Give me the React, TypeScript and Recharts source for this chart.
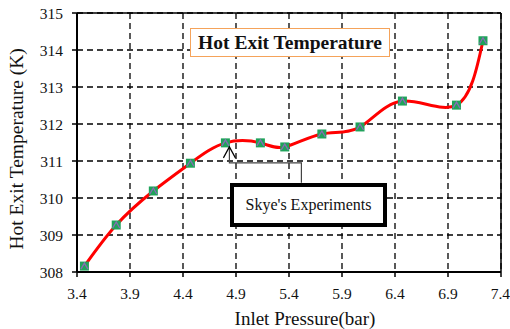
import * as React from "react";
import {
  CartesianGrid,
  Line,
  LineChart,
  ReferenceDot,
  ReferenceLine,
  XAxis,
  YAxis,
} from "recharts";

// inlet pressure (bar) and hot exit temperature (K)
const pressure = [3.47, 3.77, 4.12, 4.47, 4.8, 5.13, 5.36, 5.71, 6.07, 6.47, 6.98, 7.23];
const hotExit = [308.16, 309.27, 310.19, 310.94, 311.49, 311.49, 311.38, 311.73, 311.92, 312.62, 312.51, 314.25];

const xTicks = [3.4, 3.9, 4.4, 4.9, 5.4, 5.9, 6.4, 6.9, 7.4];
const yTicks = [308, 309, 310, 311, 312, 313, 314, 315];

const serif = "Liberation Serif, Times New Roman, serif";

const data = pressure.map((p, i) => ({ p, t: hotExit[i] }));

function Marker(props: any) {
  const { cx, cy } = props;
  if (cx == null || cy == null) return null;
  return (
    <g>
      <rect x={cx - 4.5} y={cy - 4.5} width={9} height={9} fill="#1fa35a" />
      <path
        d={`M${cx - 3.5},${cy + 3} L${cx},${cy - 3} L${cx + 3.5},${cy + 3}`}
        fill="none"
        stroke="#8a6bb5"
        strokeWidth={1.3}
      />
    </g>
  );
}

// elbow connector from the 4.8 bar point down to the callout box
function Connector(props: any) {
  const { cx, cy } = props;
  if (cx == null || cy == null) return null;
  const tx = cx + 4;
  const ty = cy + 4;
  return (
    <g>
      <path
        d={`M${tx},${ty} L${tx},${ty + 16} L${tx + 72},${ty + 16} L${tx + 72},${ty + 36}`}
        fill="none"
        stroke="#444"
        strokeWidth={1.2}
      />
      <path
        d={`M${tx - 6},${ty + 11} L${tx},${ty} L${tx + 6},${ty + 11}`}
        fill="none"
        stroke="#000"
        strokeWidth={1.2}
      />
    </g>
  );
}

export default function App() {
  return (
    <div
      style={{
        position: "fixed",
        left: 0,
        top: 0,
        width: 510,
        height: 329,
        background: "#fff",
        fontFamily: serif,
      }}
    >
      <LineChart
        width={510}
        height={329}
        data={data}
        margin={{ top: 13, right: 9, bottom: 0, left: 0 }}
        style={{ fontFamily: serif }}
      >
        <CartesianGrid
          stroke="#000"
          strokeWidth={1.3}
          strokeDasharray="6 4"
          horizontalValues={yTicks}
          verticalValues={xTicks}
        />
        <XAxis
          dataKey="p"
          type="number"
          domain={[3.4, 7.4]}
          ticks={xTicks}
          height={57}
          axisLine={{ stroke: "#000", strokeWidth: 2 }}
          tickLine={{ stroke: "#000", strokeWidth: 1.5 }}
          tickSize={5}
          tickMargin={11}
          tick={{ fill: "#111", fontSize: 15.5, fontFamily: serif }}
          label={{
            value: "Inlet Pressure(bar)",
            position: "insideBottom",
            offset: 4,
            dx: 16,
            fill: "#111",
            fontSize: 19,
            fontFamily: serif,
          }}
        />
        <YAxis
          type="number"
          domain={[308, 315]}
          ticks={yTicks}
          width={77}
          axisLine={{ stroke: "#000", strokeWidth: 2 }}
          tickLine={{ stroke: "#000", strokeWidth: 1.5 }}
          tickSize={5}
          tickMargin={9}
          tick={{ fill: "#111", fontSize: 15.5, fontFamily: serif }}
          label={{
            value: "Hot Exit Temperature (K)",
            angle: -90,
            position: "insideLeft",
            offset: 16,
            dy: 107,
            fill: "#111",
            fontSize: 19.5,
            fontFamily: serif,
          }}
        />
        <ReferenceLine y={315} stroke="#000" strokeWidth={1.5} />
        <ReferenceLine x={7.4} stroke="#000" strokeWidth={1.5} />
        <Line
          dataKey="t"
          type="natural"
          stroke="#ff0000"
          strokeWidth={3}
          dot={<Marker />}
          activeDot={false}
          isAnimationActive={false}
        />
        <ReferenceDot x={4.8} y={311.49} shape={<Connector />} />
      </LineChart>
      <div
        style={{
          position: "absolute",
          left: 190,
          top: 28,
          width: 200,
          height: 29,
          boxSizing: "border-box",
          border: "1.5px solid #f5a35a",
          background: "#fff",
          display: "flex",
          alignItems: "center",
          justifyContent: "center",
          fontWeight: "bold",
          fontSize: 19.5,
          color: "#111",
        }}
      >
        Hot Exit Temperature
      </div>
      <div
        style={{
          position: "absolute",
          left: 230,
          top: 183,
          width: 157,
          height: 44,
          boxSizing: "border-box",
          border: "4px solid #000",
          background: "#fff",
          display: "flex",
          alignItems: "center",
          justifyContent: "center",
          fontSize: 16,
          color: "#111",
        }}
      >
        Skye's Experiments
      </div>
    </div>
  );
}
